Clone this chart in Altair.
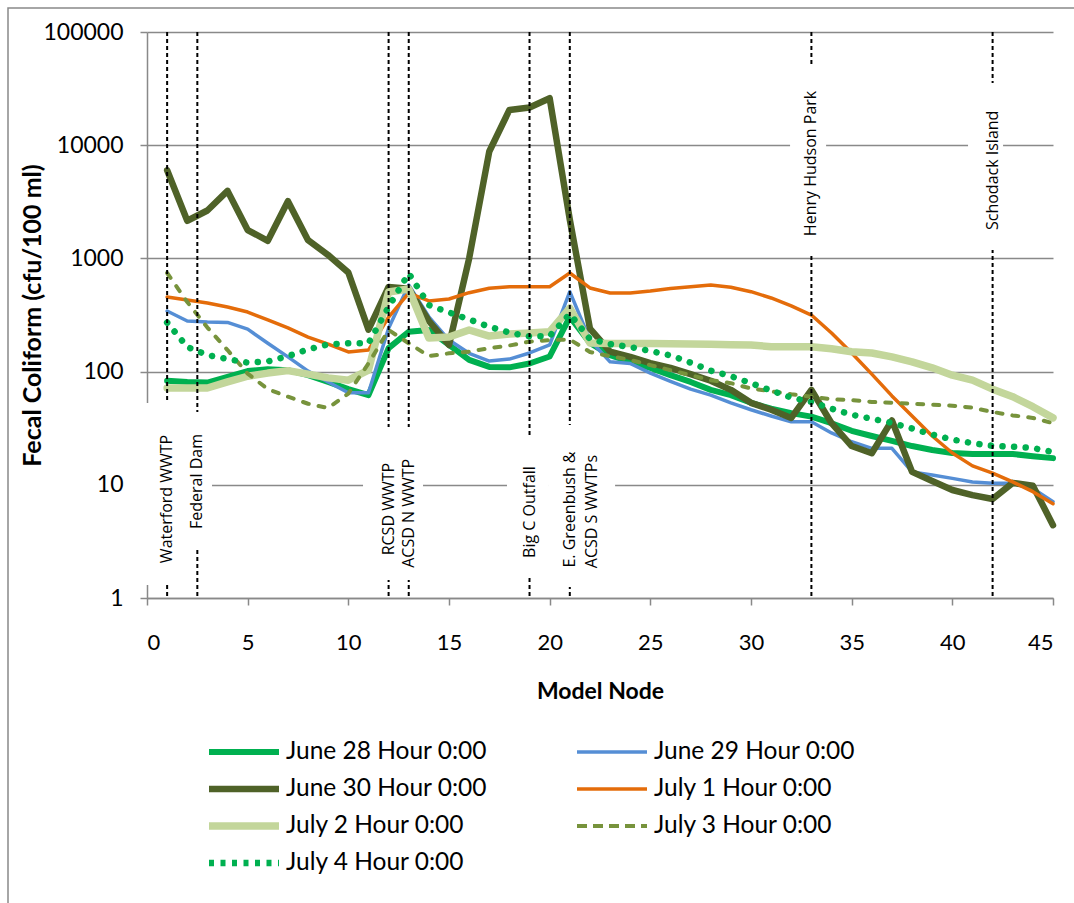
import json
import altair as alt
import pandas as pd

# Fecal coliform along the river, one profile per model date (cfu/100 ml)
nodes = list(range(1, 46))
series_names = [
    "June 28 Hour 0:00", "June 29 Hour 0:00", "June 30 Hour 0:00",
    "July 1 Hour 0:00", "July 2 Hour 0:00", "July 3 Hour 0:00", "July 4 Hour 0:00",
]
june28 = [83, 81, 80, 90, 101, 105, 103, 93, 81, 70,
          62, 161, 225, 233, 172, 127, 110, 109, 118, 136,
          305, 179, 140, 122, 108, 93, 81, 69, 62, 53,
          47, 43, 40, 35, 30, 27, 24.4, 22, 20.3, 19.1,
          18.7, 18.7, 18.7, 17.9, 17.2]
june29 = [343, 280, 274, 272, 237, 178, 135, 101, 81, 65,
          65, 242, 582, 305, 190, 145, 124, 129, 146, 172,
          508, 190, 122, 118, 97, 82, 70, 62, 53, 46,
          40.5, 36, 36, 28.7, 24, 21, 21, 13, 12.2, 11.4,
          10.6, 10.3, 10.3, 9.3, 7.1]
june30 = [6000, 2150, 2650, 3950, 1780, 1430, 3200, 1450, 1070, 750,
          235, 560, 540, 280, 172, 1000, 8800, 20500, 21500, 26000,
          2200, 240, 150, 135, 119, 108, 95, 83, 69, 53,
          46, 39, 69, 35, 22, 19, 37, 13, 10.8, 9,
          8.1, 7.5, 10.4, 9.8, 4.4]
july1 = [456, 429, 403, 372, 336, 286, 243, 202, 175, 149,
         155, 303, 494, 421, 438, 498, 545, 562, 562, 562,
         743, 548, 494, 494, 515, 542, 562, 582, 556, 508,
         447, 380, 316, 219, 146, 95, 61, 40.5, 27, 19.1,
         14.7, 12.7, 10.6, 8.7, 6.8]
july2 = [71.6, 71.6, 71.6, 81, 91, 97, 102, 95, 88, 84,
         103, 505, 537, 198, 202, 233, 206, 215, 219, 225,
         364, 179, 177, 177, 177, 176, 175, 174, 173, 172,
         166, 166, 166, 159, 150, 146, 135, 122, 108, 93,
         84, 70, 60, 49, 39]
july3 = [743, 412, 245, 155, 96, 70, 60, 52, 47.7, 64,
         118, 233, 178, 137, 145, 150, 161, 170, 184, 190,
         192, 149, 137, 127, 114, 103, 93, 84, 79, 71,
         67, 63, 60, 57, 56, 54, 53, 52, 51, 50,
         48, 44, 41, 39, 35]
july4 = [271, 165, 140, 129, 120, 123, 137, 157, 174, 178,
         178, 373, 738, 387, 333, 289, 249, 221, 204, 206,
         323, 194, 175, 165, 152, 139, 120, 102, 91, 79,
         68, 59, 54, 47, 41.6, 38.3, 35.2, 31.4, 27.8, 25.1,
         23.3, 22.1, 21.7, 21.1, 19.5]
series_values = [june28, june29, june30, july1, july2, july3, july4]

# Landmarks along the river (model node of each marker line)
marker_nodes = [1, 2.5, 12, 13, 19, 21, 33, 42]
label_texts = ["Waterford WWTP", "Federal Dam", "RCSD WWTP", "ACSD N WWTP",
               "Big C Outfall", "E. Greenbush &", "ACSD S WWTPs",
               "Henry Hudson Park", "Schodack Island"]
label_nodes = [1, 2.5, 12, 13, 19, 21, 22.1, 33, 42]
label_levels = [7.5, 10.7, 6.1, 5.6, 5.75, 6.05, 5.8, 6900, 6000]
# white text boxes behind the landmark labels
box_node_lo = [-0.4, 1.64, 10.73, 17.88, 19.92, 31.94, 40.78]
box_node_hi = [2.1, 3.23, 13.71, 19.92, 23.25, 33.73, 42.52]
box_level_lo = [1.30, 2.77, 1.44, 1.53, 1.25, 1072, 1186]
box_level_hi = [52.8, 44, 32.4, 26.4, 33.7, 51100, 35400]

# Line styles per series (plot lines use round caps, legend swatches butt caps)
line_colors = ["#00B050", "#558ED5", "#4F6228", "#E46C0A", "#C3D69B", "#77933C", "#00B050"]
line_widths = [6, 3.5, 6.5, 3.5, 7.5, 4, 6.5]
line_dashes = [[], [], [], [], [], [6, 10], [0.1, 11.5]]
swatch_dashes = [[], [], [], [], [], [10, 6], [5, 6.5]]

rows = []
for name, vals in zip(series_names, series_values):
    for n, v in zip(nodes, vals):
        rows.append({"series": name, "node": n, "value": v})
df = pd.DataFrame(rows)

markers = pd.DataFrame({"mx": marker_nodes})
labels = pd.DataFrame({"label": label_texts, "lx": label_nodes, "ly": label_levels})
boxes = pd.DataFrame({"bx": box_node_lo, "bx2": box_node_hi,
                      "by": box_level_lo, "by2": box_level_hi})

FONT = "Lato"
GRID = "#898989"

x_scale = alt.Scale(domain=[0, 45], nice=False)
y_scale = alt.Scale(type="log", domain=[1, 100000], nice=False)
x_axis = alt.Axis(
    values=list(range(0, 46, 5)), grid=False, tickSize=7,
    labelFont=FONT, labelFontSize=22, labelBaseline="middle", labelPadding=37,
    title="Model Node", titleFont=FONT, titleFontSize=23, titleFontWeight="bold",
    titleBaseline="middle", titleY=93,
)
y_axis = alt.Axis(
    values=[1, 10, 100, 1000, 10000, 100000], format="d", grid=True, tickSize=7,
    labelFont=FONT, labelFontSize=23, labelPadding=17,
    title="Fecal Coliform (cfu/100 ml)", titleFont=FONT, titleFontSize=25,
    titleFontWeight="bold", titleAngle=270, titleBaseline="middle",
    titleAlign="center", titleX=-115, titleY=283,
)

# legend swatch width/dash per entry; the entry value may arrive bare or as datum.value
names_js = json.dumps(series_names)
key = "(datum.value || datum)"
width_expr = f"{json.dumps(line_widths)}[indexof({names_js}, {key})]"
dash_expr = f"{json.dumps(swatch_dashes)}[indexof({names_js}, {key})]"

legend = alt.Legend(
    title=None, orient="none", legendX=58, legendY=708,
    direction="horizontal", columns=2,
    symbolType="stroke", symbolSize=4900,
    symbolStrokeWidth={"expr": width_expr}, symbolDash={"expr": dash_expr},
    labelFont=FONT, labelFontSize=24.5, labelColor="black", labelOffset=3,
    labelLimit=400, columnPadding=85, rowPadding=12, clipHeight=24, padding=0,
)
color_scale = alt.Scale(domain=series_names, range=line_colors)


def x_enc(f):
    return alt.X(f, scale=x_scale, axis=x_axis)


def y_enc(f):
    return alt.Y(f, scale=y_scale, axis=y_axis)


# chart frame
frame = alt.Chart(pd.DataFrame({"k": [0]})).mark_rect(
    fill="white", fillOpacity=0, stroke=GRID, strokeWidth=1.5
).encode(x=alt.value(-139), x2=alt.value(960), y=alt.value(-24), y2=alt.value(900))

line_layers = []
for name, w, d in zip(series_names, line_widths, line_dashes):
    enc = dict(
        x=x_enc("node:Q"), y=y_enc("value:Q"),
        color=alt.Color("series:N", scale=color_scale, legend=legend),
        strokeWidth=alt.value(w),
    )
    if d:
        enc["strokeDash"] = alt.value(d)
    line_layers.append(
        alt.Chart(df).transform_filter(alt.datum.series == name)
        .mark_line(strokeCap="round", strokeJoin="round")
        .encode(**enc)
    )

marker_rules = alt.Chart(markers).mark_rule(
    color="black", strokeWidth=2, strokeDash=[4, 3]
).encode(x=x_enc("mx:Q"))

label_boxes = alt.Chart(boxes).mark_rect(fill="white").encode(
    x=x_enc("bx:Q"), x2="bx2:Q", y=y_enc("by:Q"), y2="by2:Q"
)

label_text = alt.Chart(labels).mark_text(
    angle=270, font="Open Sans", fontSize=16, color="black",
    align="center", baseline="middle",
).encode(x=x_enc("lx:Q"), y=y_enc("ly:Q"), text="label:N")

chart = alt.layer(
    frame, *line_layers, marker_rules, label_boxes, label_text
).properties(
    width=906, height=566,
    autosize=alt.AutoSizeParams(type="none"),
    padding={"left": 147, "top": 32, "right": 21, "bottom": 305},
    background="white",
).configure_view(stroke=None).configure_axis(
    gridColor=GRID, gridWidth=1.5, domainColor=GRID, domainWidth=1.5,
    tickColor=GRID, tickWidth=1.5, labelColor="black", titleColor="black",
)

chart.save("out.html", embed_options={"renderer": "svg", "actions": False})
